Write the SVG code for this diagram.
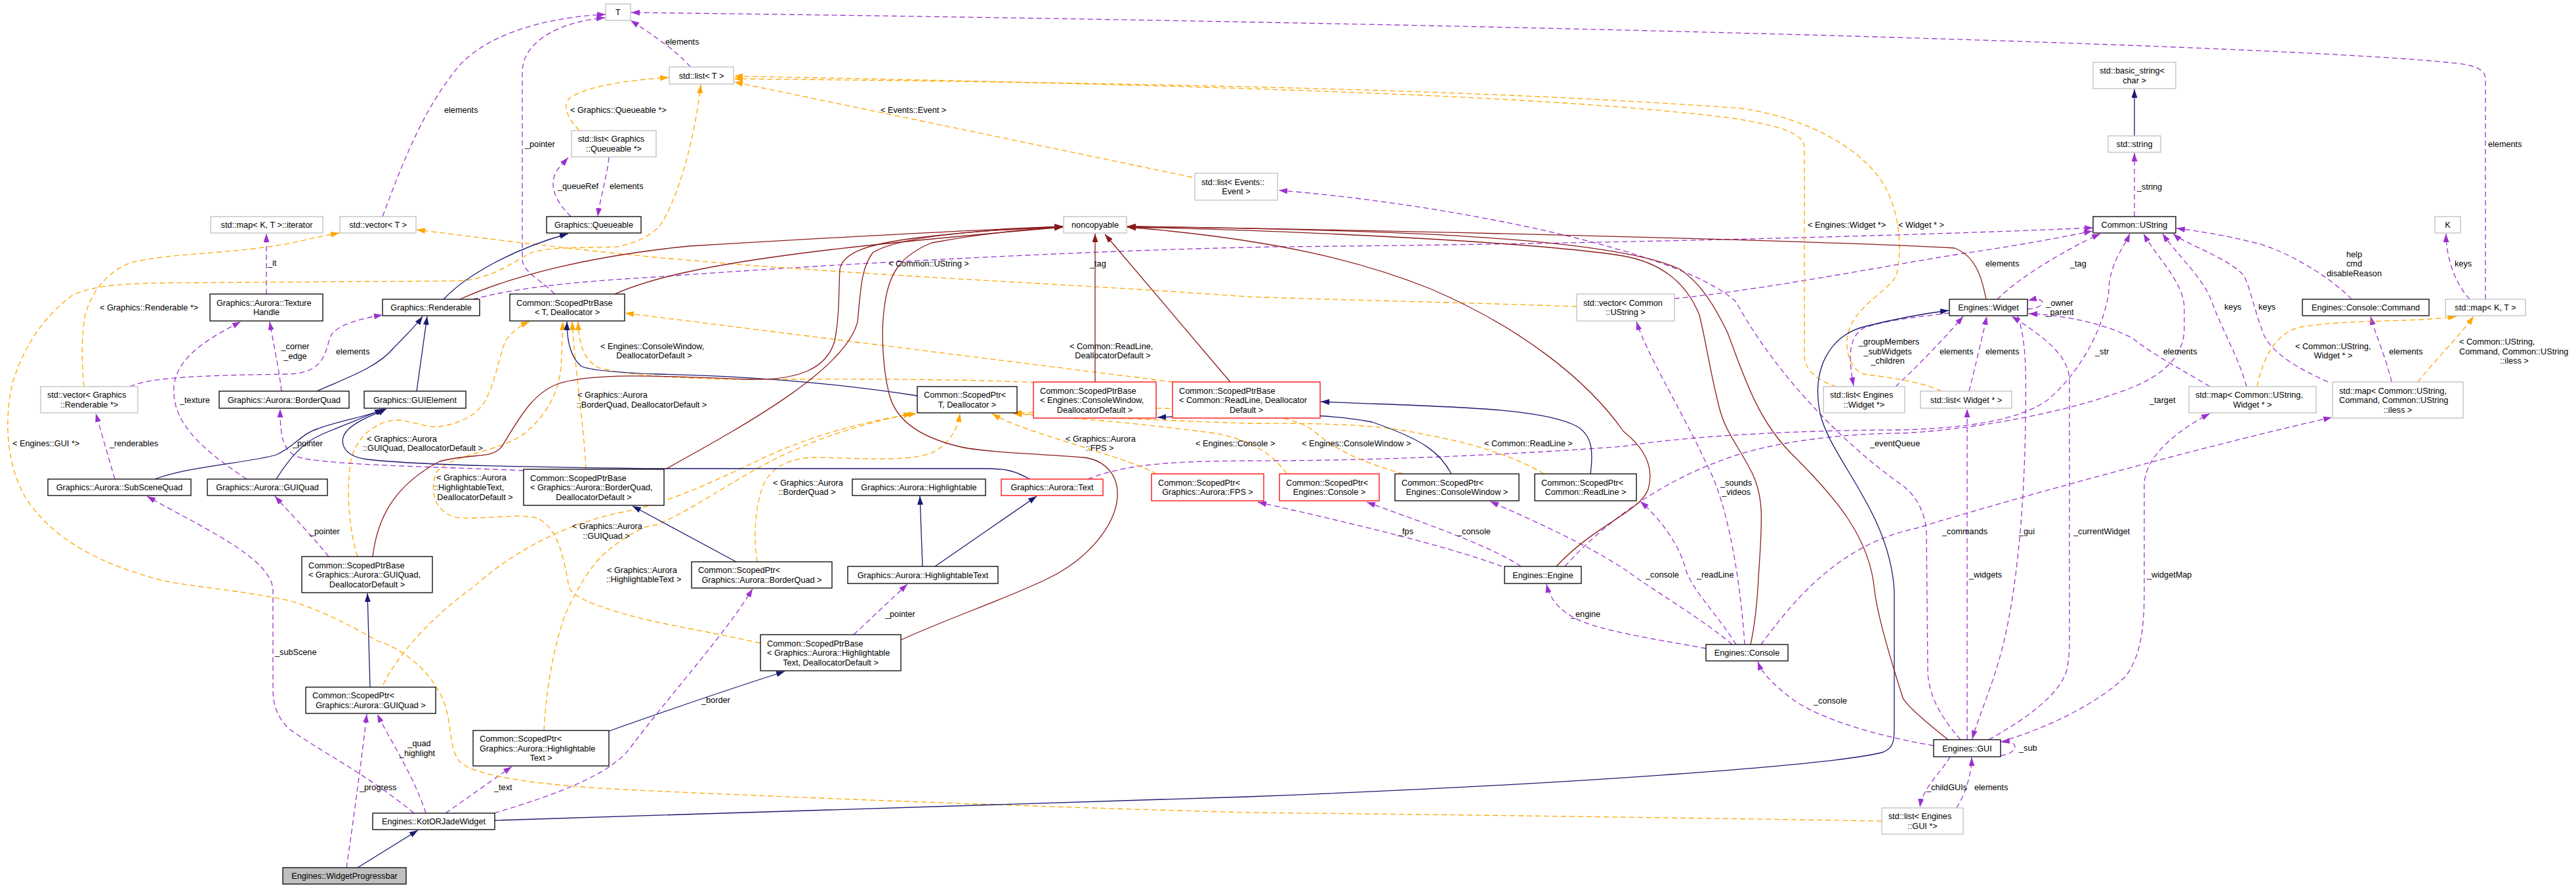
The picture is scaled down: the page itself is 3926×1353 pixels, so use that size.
<svg xmlns="http://www.w3.org/2000/svg" width="3926" height="1353" viewBox="0 0 3926 1353">
<defs>
<style>
text{font-family:"Liberation Sans",Arial,Helvetica,sans-serif;font-size:12.7px;fill:#000}
.c{text-anchor:middle}
.nb{fill:#fff;stroke:#000;stroke-width:1.3}
.ng{fill:#fff;stroke:#bfbfbf;stroke-width:1.3}
.nr{fill:#fff;stroke:#ff0000;stroke-width:1.3}
.nf{fill:#bfbfbf;stroke:#000;stroke-width:1.3}
.u{fill:none;stroke:#9a32cd;stroke-width:1.3;stroke-dasharray:8,5;marker-end:url(#mu)}
.t{fill:none;stroke:#ffa500;stroke-width:1.3;stroke-dasharray:8,5;marker-end:url(#mt)}
.i{fill:none;stroke:#191970;stroke-width:1.3;marker-end:url(#mi)}
.p{fill:none;stroke:#8b1a1a;stroke-width:1.3;marker-end:url(#mp)}
</style>
<marker id="mu" viewBox="0 0 13 9" refX="13" refY="4.5" markerWidth="13" markerHeight="9" markerUnits="userSpaceOnUse" orient="auto"><path d="M0,0L13,4.5L0,9z" fill="#9a32cd"/></marker>
<marker id="mt" viewBox="0 0 13 9" refX="13" refY="4.5" markerWidth="13" markerHeight="9" markerUnits="userSpaceOnUse" orient="auto"><path d="M0,0L13,4.5L0,9z" fill="#ffa500"/></marker>
<marker id="mi" viewBox="0 0 13 9" refX="13" refY="4.5" markerWidth="13" markerHeight="9" markerUnits="userSpaceOnUse" orient="auto"><path d="M0,0L13,4.5L0,9z" fill="#191970"/></marker>
<marker id="mp" viewBox="0 0 13 9" refX="13" refY="4.5" markerWidth="13" markerHeight="9" markerUnits="userSpaceOnUse" orient="auto"><path d="M0,0L13,4.5L0,9z" fill="#8b1a1a"/></marker>
</defs>
<rect width="3926" height="1353" fill="#fff"/>
<g id="connectors">
<!-- usage -->
<path class="u" d="M1052,102 C1035,80 990,50 961,31"/>
<path class="u" d="M583,330 C620,230 650,160 700,100 C750,45 850,25 923,22"/>
<path class="u" d="M845,448 C830,430 796,415 796,395 L796,110 C796,60 860,32 922,27"/>
<path class="u" d="M3788,456 L3788,120 C3788,105 3770,98 3730,95 C3500,72 2500,38 962,19"/>
<path class="u" d="M870,330 C845,305 835,280 850,258 L866,240"/>
<path class="u" d="M928,240 C925,270 915,300 911,330"/>
<path class="u" d="M406,448 L406,356"/>
<path class="u" d="M429,596 C425,560 416,520 411,490"/>
<path class="u" d="M376,730 C300,680 262,640 265,590 C268,540 330,510 367,490"/>
<path class="u" d="M198,589 C230,575 300,572 440,570 C500,568 495,530 505,510 C515,495 550,485 583,480"/>
<path class="u" d="M175,730 L146,630"/>
<path class="u" d="M501,848 C470,810 440,780 419,756"/>
<path class="u" d="M798,717 C700,712 520,710 460,698 C432,690 427,670 427,623"/>
<path class="u" d="M1301,967 L1383,890"/>
<path class="u" d="M631,1239 C560,1180 480,1140 440,1110 C420,1090 416,1070 416,1050 L416,900 C416,850 300,800 224,756"/>
<path class="u" d="M649,1239 C630,1180 590,1120 575,1088"/>
<path class="u" d="M528,1322 C540,1240 552,1150 559,1088"/>
<path class="u" d="M679,1239 L780,1168"/>
<path class="u" d="M753,1239 C850,1210 930,1180 960,1140 C1020,1060 1110,960 1147,897"/>
<path class="u" d="M1658,730 C1720,705 1800,703 1900,702 C2100,703 2350,690 2474,680 C2600,660 2800,655 2900,655 C3000,652 3077,640 3120,610 C3180,560 3212,480 3214,440 C3216,400 3238,375 3246,356"/>
<path class="u" d="M2385,863 C2450,790 2550,720 2665,688 C2750,665 2850,660 2900,660 C3000,655 3150,630 3250,590 C3300,570 3329,540 3329,500 L3329,470 C3329,430 3285,390 3267,356"/>
<path class="u" d="M721,456 C800,435 900,428 1000,422 C1300,400 1700,380 1950,376 C2400,372 2900,360 3190,347"/>
<path class="u" d="M2289,863 C2200,830 2050,795 1917,765"/>
<path class="u" d="M2318,863 C2270,830 2150,790 2083,765"/>
<path class="u" d="M2600,988 C2530,975 2440,962 2400,942 C2375,928 2362,912 2357,890"/>
<path class="u" d="M2640,982 C2590,940 2520,900 2480,870 C2420,830 2330,790 2271,764"/>
<path class="u" d="M2646,982 C2620,940 2580,900 2570,870 C2560,830 2530,790 2500,764"/>
<path class="u" d="M2659,982 C2655,920 2640,780 2601,707 C2560,620 2510,540 2494,490"/>
<path class="u" d="M2684,982 C2730,920 2800,830 2920,805 C3100,750 3400,670 3554,636"/>
<path class="u" d="M2947,1136 C2850,1120 2760,1090 2725,1060 C2700,1040 2685,1025 2679,1008"/>
<path class="u" d="M3031,1127 C3080,1100 3140,1060 3150,1020 C3154,1000 3154,990 3154,960 L3154,580 C3154,540 3110,510 3066,482"/>
<path class="u" d="M3075,481 C3088,520 3088,560 3087,640 C3085,800 3070,900 3060,950 C3045,1030 3015,1090 3006,1126"/>
<path class="u" d="M2998,1127 L2998,623"/>
<path class="u" d="M3049,1130 C3120,1110 3200,1070 3240,1030 C3262,1000 3268,960 3268,900 L3268,740 C3268,690 3330,650 3368,630"/>
<path class="u" d="M3049,1151 C3078,1148 3078,1126 3050,1131"/>
<path class="u" d="M2972,1153 C2960,1175 2930,1200 2926,1230"/>
<path class="u" d="M2982,1231 C2995,1210 3005,1180 3005,1154"/>
<path class="u" d="M3001,596 C3010,560 3022,510 3028,482"/>
<path class="u" d="M2889,589 C2920,560 2960,520 2992,482"/>
<path class="u" d="M2971,477 C2930,482 2870,488 2840,500 C2815,515 2818,550 2825,588"/>
<path class="u" d="M3090,471 C3120,470 3120,450 3091,458"/>
<path class="u" d="M3044,456 C3080,420 3150,380 3201,356"/>
<path class="u" d="M3584,456 C3550,420 3480,380 3437,370 C3390,358 3350,352 3317,348"/>
<path class="u" d="M3645,582 C3635,540 3620,510 3613,482"/>
<path class="u" d="M3764,456 C3740,430 3728,390 3728,356"/>
<path class="u" d="M3424,589 C3410,540 3385,500 3370,457 C3355,420 3315,385 3296,356"/>
<path class="u" d="M3548,582 C3500,560 3465,540 3450,510 C3435,470 3430,440 3420,420 C3395,392 3330,372 3312,356"/>
<path class="u" d="M3368,589 C3320,560 3280,540 3250,515 C3200,490 3140,480 3092,478"/>
<path class="u" d="M2552,455 C2700,440 2900,400 3000,385 C3100,370 3150,360 3189,352"/>
<path class="u" d="M3253,330 L3253,233"/>
<path class="u" d="M2988,1127 C2960,1095 2938,1060 2938,1020 L2936,810 C2934,780 2920,755 2900,740 C2800,670 2700,560 2646,460 C2560,380 2200,310 1949,290"/>
<!-- template -->
<path class="t" d="M883,199 C865,180 855,160 870,148 C900,130 960,122 1019,118"/>
<path class="t" d="M1817,270 L1119,125"/>
<path class="t" d="M2799,589 C2770,580 2750,565 2750,540 L2750,225 C2750,200 2700,190 2640,180 C2400,150 2000,133 1119,116"/>
<path class="t" d="M2959,596 C2930,582 2880,575 2840,570 C2815,560 2808,520 2822,493 C2840,460 2880,440 2890,420 C2900,380 2895,320 2870,280 C2840,230 2760,180 2653,165 C2300,140 1900,128 1119,120"/>
<path class="t" d="M3440,589 C3450,540 3470,510 3500,500 C3540,490 3620,490 3690,487 C3710,486 3728,484 3744,482"/>
<path class="t" d="M3685,582 C3710,550 3750,510 3770,482"/>
<path class="t" d="M128,589 C124,550 124,510 130,480 C140,440 170,410 200,400 C260,385 350,388 446,370 C480,362 500,358 517,355"/>
<path class="t" d="M2403,467 C2200,460 2000,456 1900,452 C1600,430 1300,420 1000,392 C850,378 700,358 635,350"/>
<path class="t" d="M2868,1251 C2500,1245 2100,1240 1900,1238 C1600,1230 1200,1215 950,1203 C800,1195 720,1180 700,1160 C685,1140 688,1110 680,1080 C665,1030 620,990 574,976 C530,950 480,926 440,915 C370,900 300,895 250,885 C150,860 80,820 40,760 C10,710 5,640 20,580 C40,520 70,480 110,450 C150,432 200,432 260,431 L700,428 C750,425 780,400 810,385 C840,375 900,378 940,376 C970,370 990,360 1005,345 C1030,310 1058,220 1068,129"/>
<path class="t" d="M1763,722 C1700,690 1560,660 1512,630"/>
<path class="t" d="M1961,722 C1940,690 1900,668 1850,660 C1700,640 1600,635 1544,630"/>
<path class="t" d="M2139,722 C2060,700 2030,680 2000,655 C1950,615 1700,618 1544,630"/>
<path class="t" d="M2353,722 C2300,690 2220,670 2170,662 C2100,645 2000,645 1900,645 C1750,640 1600,632 1544,630"/>
<path class="t" d="M1578,583 C1500,578 1300,577 1150,578 C1050,578 950,572 912,560 C888,548 882,520 881,490"/>
<path class="t" d="M1788,582 L953,477"/>
<path class="t" d="M893,715 C890,650 876,560 872,490"/>
<path class="t" d="M1159,980 C1080,962 1000,950 950,935 C900,920 875,910 867,895 C860,850 850,805 820,790 C790,780 720,795 690,787 C660,775 655,745 665,720 C690,690 760,690 800,660 C835,630 850,600 855,560 L858,490"/>
<path class="t" d="M545,848 C530,800 528,740 535,700 C545,660 580,640 606,640 C630,642 650,652 670,650 C700,645 725,635 740,610 C755,580 762,540 770,520 C780,505 795,495 807,490"/>
<path class="t" d="M584,1043 C610,990 670,930 721,895 C770,850 850,800 950,780 C1050,760 1150,700 1205,680 C1280,650 1360,635 1397,630"/>
<path class="t" d="M1154,856 C1148,820 1150,770 1165,735 C1180,710 1200,700 1237,697 C1300,697 1380,705 1420,690 C1450,675 1460,650 1463,630"/>
<path class="t" d="M829,1113 C832,1060 840,1000 860,940 C875,905 900,860 925,840 C950,820 980,800 1000,800 C1050,780 1120,730 1180,700 C1260,660 1340,640 1390,630"/>
<!-- public inheritance -->
<path class="i" d="M3253,207 L3253,136"/>
<path class="i" d="M676,456 C710,420 780,380 866,356"/>
<path class="i" d="M483,596 C530,575 575,560 600,530 C620,510 635,495 644,482"/>
<path class="i" d="M635,596 L651,482"/>
<path class="i" d="M236,730 C290,710 380,705 421,693 C450,680 460,660 485,653 C520,640 560,635 586,623"/>
<path class="i" d="M421,730 C440,700 460,675 490,662 C530,645 565,632 584,623"/>
<path class="i" d="M1569,730 C1545,716 1530,714 1500,714 L1000,714 C850,712 650,710 560,700 C520,695 515,670 530,655 C545,640 575,630 589,623"/>
<path class="i" d="M1398,603 C1250,580 1100,572 1000,570 C950,568 900,565 886,558 C870,545 864,520 864,490"/>
<path class="i" d="M564,1047 L560,904"/>
<path class="i" d="M1122,856 L964,771"/>
<path class="i" d="M1406,863 L1402,756"/>
<path class="i" d="M1425,863 L1580,756"/>
<path class="i" d="M928,1114 Q1080,1060 1196,1023"/>
<path class="i" d="M754,1250 C1200,1235 1600,1222 1900,1214 C2400,1195 2800,1165 2870,1146 C2885,1140 2887,1130 2887,1110 L2887,900 C2880,780 2790,700 2774,630 C2760,560 2790,510 2844,497 C2880,488 2930,478 2970,473"/>
<path class="i" d="M545,1322 L637,1265"/>
<path class="i" d="M2212,722 C2195,690 2170,670 2091,643 C2000,625 1850,632 1764,636"/>
<path class="i" d="M2424,722 C2428,690 2428,665 2404,650 C2350,620 2200,620 2013,612"/>
<!-- private inheritance -->
<path class="p" d="M701,456 C780,420 900,390 1050,375 C1300,360 1500,350 1620,345"/>
<path class="p" d="M937,448 C1000,420 1100,400 1269,380 C1400,365 1550,352 1620,346"/>
<path class="p" d="M1669,582 L1669,356"/>
<path class="p" d="M1875,582 L1684,357"/>
<path class="p" d="M1014,715 C1150,640 1290,560 1307,490 C1312,440 1312,410 1330,385 C1370,360 1500,350 1620,346"/>
<path class="p" d="M568,848 C575,790 600,740 670,703 C720,690 750,700 765,680 C790,640 810,600 850,585 C900,568 1000,572 1141,578 C1220,580 1260,560 1272,520 C1280,480 1278,440 1280,410 C1285,385 1320,372 1400,362 C1480,352 1560,348 1620,345"/>
<path class="p" d="M1373,975 C1450,940 1540,910 1600,880 C1660,850 1700,800 1703,757 C1705,720 1680,700 1651,697 C1600,692 1500,690 1460,680 C1400,665 1365,640 1355,600 C1345,560 1342,500 1349,460 C1355,420 1370,390 1420,370 C1500,355 1560,350 1620,346"/>
<path class="p" d="M3027,456 C3020,420 3010,390 2979,378 C2800,368 2200,352 1718,345"/>
<path class="p" d="M2372,863 C2430,800 2500,780 2512,745 C2525,700 2490,670 2474,657 C2420,580 2320,500 2180,440 C2080,400 1950,365 1718,346"/>
<path class="p" d="M2668,982 C2675,950 2678,920 2680,880 C2685,800 2690,760 2670,720 C2650,680 2630,660 2620,620 C2605,560 2600,520 2590,480 C2570,430 2530,400 2474,390 C2350,370 2000,352 1718,346"/>
<path class="p" d="M2969,1127 C2935,1100 2905,1075 2900,1063 C2880,1000 2862,940 2857,900 C2850,820 2800,760 2729,690 C2680,640 2660,580 2633,507 C2610,460 2590,430 2560,410 C2450,360 2100,350 1718,345"/>
<!-- edge labels -->
<text x="1014" y="67.5">elements</text>
<text x="677" y="171.5">elements</text>
<text x="800" y="223.5">_pointer</text>
<text x="3792" y="223.5">elements</text>
<text x="869" y="171.5">&lt; Graphics::Queueable *&gt;</text>
<text x="1342" y="171.5">&lt; Events::Event &gt;</text>
<text x="850" y="287.5">_queueRef</text>
<text x="929" y="287.5">elements</text>
<text x="408" y="404.5">_it</text>
<text x="1354" y="405.5">&lt; Common::UString &gt;</text>
<text x="1661" y="405.5">_tag</text>
<text x="2755" y="346.5">&lt; Engines::Widget *&gt;</text>
<text x="2893" y="346.5">&lt; Widget * &gt;</text>
<text x="3257" y="288.5">_string</text>
<text x="3026" y="405.5">elements</text>
<text x="3155" y="405.5">_tag</text>
<text class="c" x="3588" y="391.5">help</text>
<text class="c" x="3588" y="405.5">cmd</text>
<text class="c" x="3588" y="420.5">disableReason</text>
<text x="3741" y="405.5">keys</text>
<text x="152" y="472.5">&lt; Graphics::Renderable *&gt;</text>
<text class="c" x="450" y="531.5">_corner</text>
<text class="c" x="450" y="546.5">_edge</text>
<text x="512" y="539.5">elements</text>
<text x="274" y="613.5">_texture</text>
<text x="19" y="679.5">&lt; Engines::GUI *&gt;</text>
<text x="167" y="679.5">_renderables</text>
<text x="446" y="679.5">_pointer</text>
<text x="559" y="672.5">&lt; Graphics::Aurora</text>
<text x="553" y="686.5">::GUIQuad, DeallocatorDefault &gt;</text>
<text x="915" y="531.5">&lt; Engines::ConsoleWindow,</text>
<text class="c" x="997" y="545.5">DeallocatorDefault &gt;</text>
<text x="1630" y="531.5">&lt; Common::ReadLine,</text>
<text class="c" x="1696" y="545.5">DeallocatorDefault &gt;</text>
<text x="880" y="605.5">&lt; Graphics::Aurora</text>
<text class="c" x="978" y="620.5">::BorderQuad, DeallocatorDefault &gt;</text>
<text x="665" y="731.5">&lt; Graphics::Aurora</text>
<text x="661" y="746.5">::HighlightableText,</text>
<text class="c" x="724" y="761.5">DeallocatorDefault &gt;</text>
<text x="472" y="813.5">_pointer</text>
<text x="872" y="805.5">&lt; Graphics::Aurora</text>
<text class="c" x="924" y="820.5">::GUIQuad &gt;</text>
<text x="925" y="872.5">&lt; Graphics::Aurora</text>
<text class="c" x="981" y="886.5">::HighlightableText &gt;</text>
<text x="1178" y="739.5">&lt; Graphics::Aurora</text>
<text class="c" x="1230" y="753.5">::BorderQuad &gt;</text>
<text x="1624" y="672.5">&lt; Graphics::Aurora</text>
<text class="c" x="1676" y="686.5">::FPS &gt;</text>
<text x="1822" y="679.5">&lt; Engines::Console &gt;</text>
<text x="1984" y="679.5">&lt; Engines::ConsoleWindow &gt;</text>
<text x="2262" y="679.5">&lt; Common::ReadLine &gt;</text>
<text class="c" x="2879" y="524.5">_groupMembers</text>
<text class="c" x="2877" y="539.5">_subWidgets</text>
<text class="c" x="2877" y="553.5">_children</text>
<text x="2956" y="539.5">elements</text>
<text x="3026" y="539.5">elements</text>
<text x="3193" y="539.5">_str</text>
<text x="3297" y="539.5">elements</text>
<text x="3276" y="613.5">_target</text>
<text x="3390" y="471.5">keys</text>
<text x="3442" y="471.5">keys</text>
<text class="c" x="3139" y="465.5">_owner</text>
<text class="c" x="3139" y="479.5">_parent</text>
<text x="3498" y="531.5">&lt; Common::UString,</text>
<text class="c" x="3556" y="545.5">Widget * &gt;</text>
<text x="3641" y="539.5">elements</text>
<text x="3748" y="524.5">&lt; Common::UString,</text>
<text x="3748" y="539.5">Command, Common::UString</text>
<text class="c" x="3832" y="553.5">::iless &gt;</text>
<text x="2850" y="679.5">_eventQueue</text>
<text class="c" x="2646" y="739.5">_sounds</text>
<text class="c" x="2646" y="753.5">_videos</text>
<text x="2130" y="813.5">_fps</text>
<text x="2221" y="813.5">_console</text>
<text x="2960" y="813.5">_commands</text>
<text x="3077" y="813.5">_gui</text>
<text x="3160" y="813.5">_currentWidget</text>
<text x="2508" y="879.5">_console</text>
<text x="2586" y="879.5">_readLine</text>
<text x="3001" y="879.5">_widgets</text>
<text x="3272" y="879.5">_widgetMap</text>
<text x="1349" y="939.5">_pointer</text>
<text x="2394" y="939.5">_engine</text>
<text x="419" y="997.5">_subScene</text>
<text x="1069" y="1070.5">_border</text>
<text x="2764" y="1071.5">_console</text>
<text x="3077" y="1143.5">_sub</text>
<text class="c" x="639" y="1136.5">_quad</text>
<text class="c" x="636" y="1151.5">_highlight</text>
<text x="548" y="1203.5">_progress</text>
<text x="753" y="1203.5">_text</text>
<text x="2936" y="1203.5">_childGUIs</text>
<text x="3009" y="1203.5">elements</text>
</g>
<g id="n_T"><rect class="ng" x="923" y="6" width="38" height="25"/><text class="c" x="942" y="23">T</text></g>
<g id="n_listT"><rect class="ng" x="1020" y="102" width="98" height="26"/><text class="c" x="1069" y="119.5">std::list&lt; T &gt;</text></g>
<g id="n_listQueueable"><rect class="ng" x="871" y="199" width="129" height="40"/><text x="881" y="216.3">std::list&lt; Graphics</text><text class="c" x="935.5" y="230.8">::Queueable *&gt;</text></g>
<g id="n_queueable"><rect class="nb" x="833" y="330" width="144" height="25"/><text class="c" x="905" y="347">Graphics::Queueable</text></g>
<g id="n_mapIter"><rect class="ng" x="321" y="330" width="171" height="25"/><text class="c" x="406.5" y="347">std::map&lt; K, T &gt;::iterator</text></g>
<g id="n_vectorT"><rect class="ng" x="518" y="330" width="116" height="25"/><text class="c" x="576" y="347">std::vector&lt; T &gt;</text></g>
<g id="n_textureHandle"><rect class="nb" x="320" y="448" width="172" height="41"/><text x="330" y="465.8">Graphics::Aurora::Texture</text><text class="c" x="406" y="480.3">Handle</text></g>
<g id="n_renderable"><rect class="nb" x="583" y="456" width="148" height="25"/><text class="c" x="657" y="473">Graphics::Renderable</text></g>
<g id="n_spbT"><rect class="nb" x="777" y="448" width="175" height="41"/><text x="787" y="465.8">Common::ScopedPtrBase</text><text class="c" x="864.5" y="480.3">&lt; T, Deallocator &gt;</text></g>
<g id="n_vecRenderable"><rect class="ng" x="62" y="589" width="148" height="40"/><text x="72" y="606.3">std::vector&lt; Graphics</text><text class="c" x="136" y="620.8">::Renderable *&gt;</text></g>
<g id="n_borderQuad"><rect class="nb" x="334" y="596" width="198" height="26"/><text class="c" x="433" y="613.5">Graphics::Aurora::BorderQuad</text></g>
<g id="n_guiElement"><rect class="nb" x="555" y="596" width="155" height="26"/><text class="c" x="632.5" y="613.5">Graphics::GUIElement</text></g>
<g id="n_subSceneQuad"><rect class="nb" x="73" y="730" width="218" height="25"/><text class="c" x="182" y="747">Graphics::Aurora::SubSceneQuad</text></g>
<g id="n_guiQuad"><rect class="nb" x="316" y="730" width="183" height="25"/><text class="c" x="407.5" y="747">Graphics::Aurora::GUIQuad</text></g>
<g id="n_spbBorderQuad"><rect class="nb" x="798" y="715" width="214" height="55"/><text x="808" y="732.5">Common::ScopedPtrBase</text><text x="808" y="747">&lt; Graphics::Aurora::BorderQuad,</text><text class="c" x="905" y="761.5">DeallocatorDefault &gt;</text></g>
<g id="n_spbGUIQuad"><rect class="nb" x="460" y="848" width="199" height="55"/><text x="470" y="865.5">Common::ScopedPtrBase</text><text x="470" y="880">&lt; Graphics::Aurora::GUIQuad,</text><text class="c" x="559.5" y="894.5">DeallocatorDefault &gt;</text></g>
<g id="n_spT"><rect class="nb" x="1398" y="589" width="152" height="40"/><text x="1408" y="606.3">Common::ScopedPtr&lt;</text><text class="c" x="1474" y="620.8">T, Deallocator &gt;</text></g>
<g id="n_spbConsoleWindow"><rect class="nr" x="1575" y="582" width="187" height="55"/><text x="1585" y="599.5">Common::ScopedPtrBase</text><text x="1585" y="614">&lt; Engines::ConsoleWindow,</text><text class="c" x="1668.5" y="628.5">DeallocatorDefault &gt;</text></g>
<g id="n_spbReadLine"><rect class="nr" x="1787" y="582" width="225" height="55"/><text x="1797" y="599.5">Common::ScopedPtrBase</text><text x="1797" y="614">&lt; Common::ReadLine, Deallocator</text><text class="c" x="1899.5" y="628.5">Default &gt;</text></g>
<g id="n_highlightable"><rect class="nb" x="1299" y="730" width="203" height="25"/><text class="c" x="1400.5" y="747">Graphics::Aurora::Highlightable</text></g>
<g id="n_text"><rect class="nr" x="1526" y="730" width="155" height="25"/><text class="c" x="1603.5" y="747">Graphics::Aurora::Text</text></g>
<g id="n_spFPS"><rect class="nr" x="1755" y="722" width="171" height="41"/><text x="1765" y="739.8">Common::ScopedPtr&lt;</text><text class="c" x="1840.5" y="754.3">Graphics::Aurora::FPS &gt;</text></g>
<g id="n_spBorderQuad"><rect class="nb" x="1054" y="856" width="214" height="40"/><text x="1064" y="873.3">Common::ScopedPtr&lt;</text><text class="c" x="1161" y="887.8">Graphics::Aurora::BorderQuad &gt;</text></g>
<g id="n_highlightableText"><rect class="nb" x="1292" y="863" width="229" height="26"/><text class="c" x="1406.5" y="880.5">Graphics::Aurora::HighlightableText</text></g>
<g id="n_vecUString"><rect class="ng" x="2403" y="448" width="149" height="41"/><text x="2413" y="465.8">std::vector&lt; Common</text><text class="c" x="2477.5" y="480.3">::UString &gt;</text></g>
<g id="n_listEnginesWidget"><rect class="ng" x="2779" y="589" width="124" height="40"/><text x="2789" y="606.3">std::list&lt; Engines</text><text class="c" x="2841" y="620.8">::Widget *&gt;</text></g>
<g id="n_spConsole"><rect class="nr" x="1950" y="722" width="152" height="41"/><text x="1960" y="739.8">Common::ScopedPtr&lt;</text><text class="c" x="2026" y="754.3">Engines::Console &gt;</text></g>
<g id="n_spConsoleWindow"><rect class="nb" x="2126" y="722" width="189" height="41"/><text x="2136" y="739.8">Common::ScopedPtr&lt;</text><text class="c" x="2220.5" y="754.3">Engines::ConsoleWindow &gt;</text></g>
<g id="n_spReadLine"><rect class="nb" x="2339" y="722" width="155" height="41"/><text x="2349" y="739.8">Common::ScopedPtr&lt;</text><text class="c" x="2416.5" y="754.3">Common::ReadLine &gt;</text></g>
<g id="n_engine"><rect class="nb" x="2293" y="863" width="117" height="26"/><text class="c" x="2351.5" y="880.5">Engines::Engine</text></g>
<g id="n_widget"><rect class="nb" x="2971" y="456" width="119" height="25"/><text class="c" x="3030.5" y="473">Engines::Widget</text></g>
<g id="n_listWidget"><rect class="ng" x="2927" y="596" width="139" height="26"/><text class="c" x="2996.5" y="613.5">std::list&lt; Widget * &gt;</text></g>
<g id="n_mapUStringWidget"><rect class="ng" x="3336" y="589" width="194" height="40"/><text x="3346" y="606.3">std::map&lt; Common::UString,</text><text class="c" x="3433" y="620.8">Widget * &gt;</text></g>
<g id="n_mapUStringCommand"><rect class="ng" x="3555" y="582" width="199" height="55"/><text x="3565" y="599.5">std::map&lt; Common::UString,</text><text x="3565" y="614">Command, Common::UString</text><text class="c" x="3654.5" y="628.5">::iless &gt;</text></g>
<g id="n_command"><rect class="nb" x="3509" y="456" width="193" height="25"/><text class="c" x="3605.5" y="473">Engines::Console::Command</text></g>
<g id="n_mapKT"><rect class="ng" x="3727" y="456" width="122" height="25"/><text class="c" x="3788" y="473">std::map&lt; K, T &gt;</text></g>
<g id="n_basicString"><rect class="ng" x="3190" y="95" width="126" height="40"/><text x="3200" y="112.3">std::basic_string&lt;</text><text class="c" x="3253" y="126.8">char &gt;</text></g>
<g id="n_stdString"><rect class="ng" x="3213" y="207" width="80" height="25"/><text class="c" x="3253" y="224">std::string</text></g>
<g id="n_ustring"><rect class="nb" x="3190" y="330" width="126" height="25"/><text class="c" x="3253" y="347">Common::UString</text></g>
<g id="n_K"><rect class="ng" x="3711" y="330" width="39" height="25"/><text class="c" x="3730.5" y="347">K</text></g>
<g id="n_listEvent"><rect class="ng" x="1821" y="264" width="126" height="41"/><text x="1831" y="281.8">std::list&lt; Events::</text><text class="c" x="1884" y="296.3">Event &gt;</text></g>
<g id="n_noncopyable"><rect class="ng" x="1621" y="330" width="96" height="25"/><text class="c" x="1669" y="347">noncopyable</text></g>
<g id="n_spGUIQuad"><rect class="nb" x="466" y="1047" width="198" height="40"/><text x="476" y="1064.3">Common::ScopedPtr&lt;</text><text class="c" x="565" y="1078.8">Graphics::Aurora::GUIQuad &gt;</text></g>
<g id="n_spHighlightableText"><rect class="nb" x="721" y="1113" width="207" height="54"/><text x="731" y="1130">Common::ScopedPtr&lt;</text><text x="731" y="1144.5">Graphics::Aurora::Highlightable</text><text class="c" x="824.5" y="1159">Text &gt;</text></g>
<g id="n_kotorJadeWidget"><rect class="nb" x="568" y="1239" width="186" height="25"/><text class="c" x="661" y="1256">Engines::KotORJadeWidget</text></g>
<g id="n_widgetProgressbar"><rect class="nf" x="431" y="1322" width="188" height="25"/><text class="c" x="525" y="1339">Engines::WidgetProgressbar</text></g>
<g id="n_spbHighlightableText"><rect class="nb" x="1159" y="967" width="214" height="55"/><text x="1169" y="984.5">Common::ScopedPtrBase</text><text x="1169" y="999">&lt; Graphics::Aurora::Highlightable</text><text class="c" x="1266" y="1013.5">Text, DeallocatorDefault &gt;</text></g>
<g id="n_console"><rect class="nb" x="2600" y="982" width="125" height="25"/><text class="c" x="2662.5" y="999">Engines::Console</text></g>
<g id="n_listGUI"><rect class="ng" x="2868" y="1231" width="124" height="40"/><text x="2878" y="1248.3">std::list&lt; Engines</text><text class="c" x="2930" y="1262.8">::GUI *&gt;</text></g>
<g id="n_gui"><rect class="nb" x="2947" y="1127" width="102" height="26"/><text class="c" x="2998" y="1144.5">Engines::GUI</text></g>
</svg>
